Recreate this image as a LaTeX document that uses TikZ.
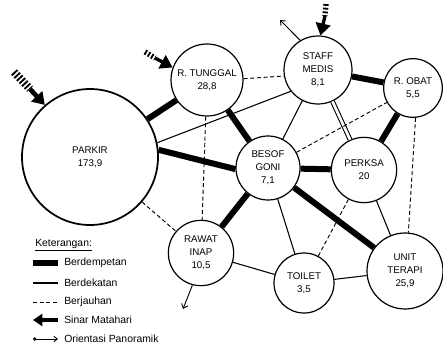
\documentclass[tikz,border=0pt]{standalone}
\usepackage{fontspec}
\setmainfont{Liberation Sans}
\usetikzlibrary{arrows.meta}

\begin{document}
\begin{tikzpicture}[x=0.75pt,y=-0.75pt,
  ruang/.style={circle, draw, line width=0.9pt, inner sep=0pt, align=center, font=\fontsize{7.3}{9.8}\selectfont},
  dempet/.style={line width=4.5pt},
  dekat/.style={line width=0.8pt},
  jauh/.style={line width=0.7pt, dash pattern=on 3pt off 2pt},
  bising/.style={line width=6pt, dash pattern=on 1.4pt off 1.4pt},
  masuk/.style={line width=3.5pt, -{Triangle[width=11pt,length=9pt]}},
  orientasi/.style={line width=0.7pt, -{Straight Barb[width=5pt,length=3pt]}},
  ket/.style={anchor=west, inner sep=0pt, font=\fontsize{7.8}{9}\selectfont}]
\useasboundingbox (0,0) rectangle (443,349);

\node[ruang, minimum size=102pt, line width=1.3pt] (parkir) at (90,157) {PARKIR\\173,9};
\node[ruang, minimum size=54pt] (tunggal) at (207,80) {R. TUNGGAL\\28,8};
\node[ruang, minimum size=51pt] (staff) at (318,70) {STAFF\\MEDIS\\8,1};
\node[ruang, minimum size=44pt] (obat) at (413,88) {R. OBAT\\5,5};
\node[ruang, minimum size=48pt] (besof) at (268,168) {BESOF\\GONI\\7,1};
\node[ruang, minimum size=49pt] (perksa) at (364,170) {PERKSA\\20};
\node[ruang, minimum size=49pt] (rawat) at (201,253) {RAWAT\\INAP\\10,5};
\node[ruang, minimum size=45pt] (toilet) at (304,283) {TOILET\\3,5};
\node[ruang, minimum size=57pt] (terapi) at (405,271) {UNIT\\TERAPI\\25,9};

\draw[dempet] (parkir) -- (tunggal);
\draw[dempet] (parkir.6) -- (besof.182);
\draw[dempet] (tunggal) -- (besof);
\draw[dempet] (staff) -- (obat);
\draw[dempet] (obat) -- (perksa);
\draw[dempet] (besof) -- (perksa);
\draw[dempet] (besof) -- (rawat);
\draw[dempet] (besof) -- (terapi);

\draw[dekat] (parkir.12) -- (staff.218);
\draw[dekat] (staff) -- (besof);
\draw[dekat, double, double distance=2pt] (staff) -- (perksa);
\draw[dekat] (perksa) -- (terapi);
\draw[dekat] (besof) -- (toilet);
\draw[dekat] (toilet) -- (terapi);
\draw[dekat] (rawat) -- (toilet);

\draw[jauh] (parkir) -- (rawat);
\draw[jauh] (tunggal) -- (rawat);
\draw[jauh] (tunggal.2) -- (staff.190);
\draw[jauh] (besof) -- (obat);
\draw[jauh] (obat.275) -- (terapi.85);
\draw[jauh] (toilet) -- (perksa);

\coordinate (a0) at (14,72);
\coordinate (a1) at (30,89);
\draw[bising] (a0) -- (a1);
\draw[masuk] (a1) -- (parkir.131);
\coordinate (b0) at (145,52);
\coordinate (b1) at (155,58);
\draw[bising, line width=4pt] (b0) -- (b1);
\draw[masuk, line width=2.5pt] (b1) -- (tunggal.160);
\coordinate (c0) at (326,4);
\coordinate (c1) at (325,16);
\draw[bising, line width=4pt] (c0) -- (c1);
\draw[masuk, line width=2.5pt] (c1) -- (staff.86);

\coordinate (o1) at (280,20);
\draw[orientasi] (staff.121) -- (o1);
\coordinate (o2) at (183,309);
\draw[orientasi] (rawat.255) -- (o2);

\node[ket] (ketr) at (35,245) {\underline{Keterangan:}};
\draw[dempet] (33,263) -- (58,263);
\node[ket] at (64,263) {Berdempetan};
\draw[dekat] (33,283) -- (58,283);
\node[ket] at (64,283) {Berdekatan};
\draw[jauh] (33,302) -- (58,302);
\node[ket] at (64,302) {Berjauhan};
\draw[line width=2.5pt, {Triangle[width=9pt,length=7pt]}-] (33,320) -- (58,320);
\node[ket] at (64,320) {Sinar Matahari};
\draw[line width=0.7pt, {Circle[length=2.5pt]}-{Straight Barb[width=4pt,length=2.5pt]}] (33,339) -- (58,339);
\node[ket] at (64,339) {Orientasi Panoramik};
\end{tikzpicture}
\end{document}
